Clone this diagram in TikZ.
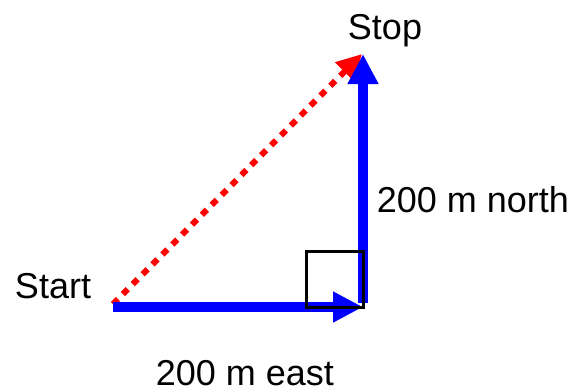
\documentclass[tikz,border=0pt]{standalone}
\usepackage{fontspec}
\setmainfont{Liberation Sans}
\usetikzlibrary{arrows.meta,positioning}

\begin{document}
\begin{tikzpicture}[x=0.75pt, y=-0.75pt,
  leg/.style={draw=blue, line width=7.5pt, -{Triangle[length=22.5pt, width=21.75pt]}},
  path/.style={draw=red, line width=4.5pt, dash pattern=on 5.25pt off 5.25pt, -{Triangle[length=18.75pt, width=18.75pt]}},
  lbl/.style={font=\fontsize{27}{32}\selectfont, inner sep=0pt}]
\useasboundingbox (0,0) rectangle (581,390);

\coordinate (start) at (113,307);
\coordinate (corner) at (363,307);
\coordinate (stop) at (363,54);

\draw[path] ([yshift=2.25pt]start) -- ([xshift=-0.75pt]stop);
\draw[leg] (start) -- (corner);
\draw[leg] ([yshift=3pt]corner) -- (stop);
\draw[line width=2.25pt] (306,251) rectangle (corner);

\node[lbl] (startlabel) at (53,286) {Start};
\node[lbl] (eastlabel) at (245,373) {200 m east};
\node[lbl] (northlabel) at (473,200) {200 m north};
\node[lbl] (stoplabel) at (385,31) {Stop};
\end{tikzpicture}
\end{document}
